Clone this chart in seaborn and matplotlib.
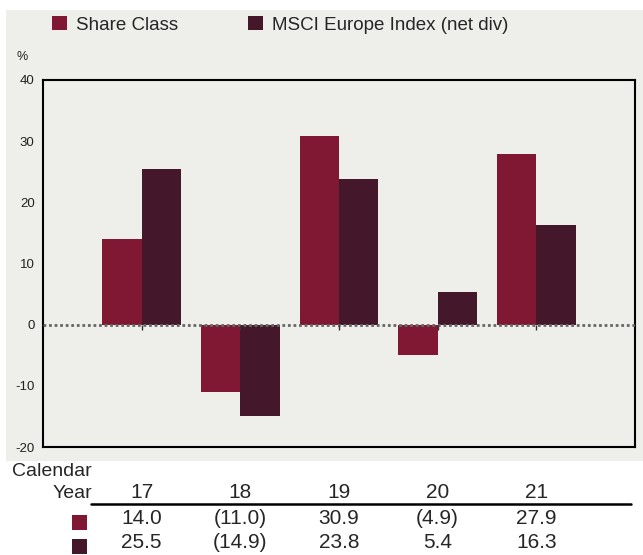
import pandas as pd
import matplotlib.pyplot as plt
import matplotlib.transforms as mtransforms
from matplotlib.patches import Rectangle
import seaborn as sns

# Chart data
years = ['17', '18', '19', '20', '21']
series_names = ['Share Class', 'MSCI Europe Index (net div)']
share_class = [14.0, -11.0, 30.9, -4.9, 27.9]
msci_europe = [25.5, -14.9, 23.8, 5.4, 16.3]
share_labels = ['14.0', '(11.0)', '30.9', '(4.9)', '27.9']
msci_labels = ['25.5', '(14.9)', '23.8', '5.4', '16.3']
yticks = [-20, -10, 0, 10, 20, 30, 40]

colors = ['#801834', '#45172A']
panel_bg = '#EEEEEA'

df = pd.DataFrame({
    'Year': years * 2,
    'Series': [series_names[0]] * len(years) + [series_names[1]] * len(years),
    'Return': share_class + msci_europe,
})

sns.set_style('white')
plt.rcParams['font.family'] = ['Liberation Sans', 'DejaVu Sans']

W, H = 643, 555
fig = plt.figure(figsize=(W / 100, H / 100), dpi=100)
fig.patch.set_facecolor('white')

# grey panel behind the chart
fig.patches.append(Rectangle((6 / W, (H - 461) / H), (W - 6) / W, 451 / H,
                             transform=fig.transFigure, facecolor=panel_bg,
                             edgecolor='none', zorder=-5))

ax = fig.add_axes([43 / W, (H - 447) / H, 592 / W, 367 / H])
ax.set_zorder(2)
ax.set_facecolor(panel_bg)

sns.barplot(data=df, x='Year', y='Return', hue='Series', palette=colors,
            order=years, hue_order=series_names, width=0.8, saturation=1,
            linewidth=0, ax=ax, legend=True)

ax.set_xlim(-1, len(years))
ax.set_ylim(-20, 40)
ax.set_yticks(yticks)
ax.set_yticklabels([str(t) for t in yticks], fontsize=9.5, color='#222222')
ax.tick_params(axis='y', direction='out', length=4, width=1, color='#333333', pad=2)
ax.set_xticks([])
ax.set_xlabel('')
ax.set_ylabel('')
for sp in ax.spines.values():
    sp.set_visible(True)
    sp.set_color('black')
    sp.set_linewidth(1.5)

# dotted zero line with small ticks under each year
ax.axhline(0, color='#666666', linestyle=(0, (1, 1)), linewidth=2, zorder=3)
ax.vlines(range(len(years)), -0.9, 0, color='#333333', linewidth=1, zorder=3)

# legend along the top
handles, labels = ax.get_legend_handles_labels()
ax.get_legend().remove()
fig.legend(handles, labels, loc='center left',
           bbox_to_anchor=(52 / W, (H - 25) / H), ncol=2, frameon=False,
           prop={'size': 13.5},
           handlelength=0.78, handleheight=0.78, handletextpad=0.5,
           columnspacing=3.75, borderaxespad=0, borderpad=0)

fig.text(22 / W, (H - 57) / H, '%', fontsize=9, ha='center', va='center',
         color='#222222')

# table below the chart
trans = mtransforms.blended_transform_factory(ax.transData, fig.transFigure)
fig.text(92 / W, (H - 472) / H, 'Calendar', fontsize=14, ha='right', va='center')
fig.text(92 / W, (H - 493) / H, 'Year', fontsize=14, ha='right', va='center')
for i, y in enumerate(years):
    ax.text(i, (H - 492) / H, y, transform=trans, fontsize=15, ha='center', va='center')
    ax.text(i, (H - 519) / H, share_labels[i], transform=trans, fontsize=15,
            ha='center', va='center')
    ax.text(i, (H - 542) / H, msci_labels[i], transform=trans, fontsize=15,
            ha='center', va='center')

fig.add_artist(plt.Line2D([91 / W, 631 / W], [(H - 504) / H] * 2,
                          transform=fig.transFigure, color='black', linewidth=1.8))
for row, c in zip([515, 539], colors):
    fig.patches.append(Rectangle((72 / W, (H - row - 15) / H), 15 / W, 15 / H,
                                 transform=fig.transFigure, facecolor=c,
                                 edgecolor='none'))

fig.savefig('out.png', dpi=100)
